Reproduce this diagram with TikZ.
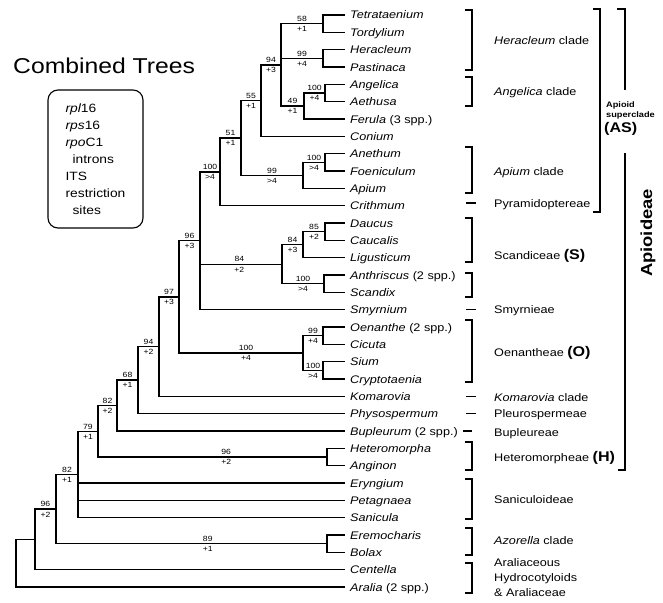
\documentclass[tikz,border=0pt]{standalone}
\usepackage{fontspec}
\setmainfont{Liberation Sans}[FakeStretch=1.15]
\usetikzlibrary{calc}
\tikzstyle{taxon} = [anchor=west, inner xsep=5pt, inner ysep=0pt, text height=8pt, text depth=0pt, font=\fontsize{11}{13}\selectfont\itshape]
\tikzstyle{group} = [anchor=west, inner sep=0pt, text height=8pt, text depth=0pt, font=\fontsize{11}{13}\selectfont]
\tikzstyle{branch} = [line width=1.4pt]
\tikzstyle{boot} = [above, inner sep=1.5pt, font=\fontsize{7.5}{8}\selectfont]
\tikzstyle{decay} = [below, inner sep=2pt, font=\fontsize{7.5}{8}\selectfont]
\tikzstyle{cladebar} = [line width=1.3pt]
\newcommand{\tribe}[1]{{\fontsize{14}{15}\selectfont\bfseries (#1)}}

\begin{document}
\begin{tikzpicture}[x=1pt, y=-1pt]
        \useasboundingbox (0,0) rectangle (663,602);

        \node[anchor=base west, inner sep=0pt, font=\fontsize{21.5}{24}\selectfont] (title) at (13,73) {Combined Trees};
        \node[draw, rounded corners=10pt, line width=1.1pt, minimum width=95pt, minimum height=138pt, align=left, font=\fontsize{12}{17}\selectfont] (markers) at (95.5,159)
            {{\itshape rpl}16\\ {\itshape rps}16\\ {\itshape rpo}C1\\ \hspace*{7pt}introns\\ ITS\\ restriction\\ \hspace*{7pt}sites};

        % taxa
        \node[taxon] at (345, 15) (Tetrataenium) {Tetrataenium};
        \node[taxon] at (345, 32.3) (Tordylium) {Tordylium};
        \node[taxon] at (345, 49.7) (Heracleum) {Heracleum};
        \node[taxon] at (345, 67) (Pastinaca) {Pastinaca};
        \node[taxon] at (345, 84.3) (Angelica) {Angelica};
        \node[taxon] at (345, 101.7) (Aethusa) {Aethusa};
        \node[taxon] at (345, 119) (Ferula) {Ferula \textup{(3 spp.)}};
        \node[taxon] at (345, 136.3) (Conium) {Conium};
        \node[taxon] at (345, 153.6) (Anethum) {Anethum};
        \node[taxon] at (345, 171) (Foeniculum) {Foeniculum};
        \node[taxon] at (345, 188.3) (Apium) {Apium};
        \node[taxon] at (345, 205.6) (Crithmum) {Crithmum};
        \node[taxon] at (345, 223) (Daucus) {Daucus};
        \node[taxon] at (345, 240.3) (Caucalis) {Caucalis};
        \node[taxon] at (345, 257.6) (Ligusticum) {Ligusticum};
        \node[taxon] at (345, 275) (Anthriscus) {Anthriscus \textup{(2 spp.)}};
        \node[taxon] at (345, 292.3) (Scandix) {Scandix};
        \node[taxon] at (345, 309.6) (Smyrnium) {Smyrnium};
        \node[taxon] at (345, 327) (Oenanthe) {Oenanthe \textup{(2 spp.)}};
        \node[taxon] at (345, 344.3) (Cicuta) {Cicuta};
        \node[taxon] at (345, 361.6) (Sium) {Sium};
        \node[taxon] at (345, 379) (Cryptotaenia) {Cryptotaenia};
        \node[taxon] at (345, 396.3) (Komarovia) {Komarovia};
        \node[taxon] at (345, 413.6) (Physospermum) {Physospermum};
        \node[taxon] at (345, 431) (Bupleurum) {Bupleurum \textup{(2 spp.)}};
        \node[taxon] at (345, 448.3) (Heteromorpha) {Heteromorpha};
        \node[taxon] at (345, 465.6) (Anginon) {Anginon};
        \node[taxon] at (345, 483) (Eryngium) {Eryngium};
        \node[taxon] at (345, 500.3) (Petagnaea) {Petagnaea};
        \node[taxon] at (345, 517.6) (Sanicula) {Sanicula};
        \node[taxon] at (345, 535) (Eremocharis) {Eremocharis};
        \node[taxon] at (345, 552.3) (Bolax) {Bolax};
        \node[taxon] at (345, 569.6) (Centella) {Centella};
        \node[taxon] at (345, 587) (Aralia) {Aralia \textup{(2 spp.)}};

        % internal nodes
        \coordinate (TetTor) at (323, 23.7);
        \coordinate (HerPas) at (323, 58.3);
        \coordinate (AngAeth) at (325, 93);
        \coordinate (AngFer) at (304, 106);
        \coordinate (HeraclAng) at (281, 64.8);
        \coordinate (HeraclCon) at (261, 100.6);
        \coordinate (AneFoe) at (325, 162.3);
        \coordinate (AneApi) at (303, 175.3);
        \coordinate (HeraclApi) at (241, 138);
        \coordinate (HeraclCri) at (220, 171.8);
        \coordinate (DauCau) at (325, 231.7);
        \coordinate (DauLig) at (303, 244.7);
        \coordinate (AntSca) at (324, 283.7);
        \coordinate (DauSca) at (282, 264.2);
        \coordinate (HeraclSmy) at (200, 240.7);
        \coordinate (OenCic) at (323, 335.7);
        \coordinate (SiuCry) at (323, 370.3);
        \coordinate (OenCry) at (303, 353);
        \coordinate (HeraclOen) at (179, 296.9);
        \coordinate (HeraclKom) at (159, 346.6);
        \coordinate (HeraclPhy) at (138, 380.1);
        \coordinate (HeraclBup) at (117, 405.6);
        \coordinate (HetAng) at (327, 457);
        \coordinate (HeraclHet) at (98, 431.3);
        \coordinate (HeraclSan) at (78, 474.5);
        \coordinate (EreBol) at (327, 543.7);
        \coordinate (HeraclBol) at (56, 509.1);
        \coordinate (HeraclCen) at (35, 539.4);
        \coordinate (Root) at (16, 563.2);

        % terminal branches
        \draw[branch] (TetTor) |- (Tetrataenium.west);
        \draw[branch] (TetTor) |- (Tordylium.west);
        \draw[branch] (HerPas) |- (Heracleum.west);
        \draw[branch] (HerPas) |- (Pastinaca.west);
        \draw[branch] (AngAeth) |- (Angelica.west);
        \draw[branch] (AngAeth) |- (Aethusa.west);
        \draw[branch] (AngFer) |- (Ferula.west);
        \draw[branch] (HeraclCon) |- (Conium.west);
        \draw[branch] (AneFoe) |- (Anethum.west);
        \draw[branch] (AneFoe) |- (Foeniculum.west);
        \draw[branch] (AneApi) |- (Apium.west);
        \draw[branch] (HeraclCri) |- (Crithmum.west);
        \draw[branch] (DauCau) |- (Daucus.west);
        \draw[branch] (DauCau) |- (Caucalis.west);
        \draw[branch] (DauLig) |- (Ligusticum.west);
        \draw[branch] (AntSca) |- (Anthriscus.west);
        \draw[branch] (AntSca) |- (Scandix.west);
        \draw[branch] (HeraclSmy) |- (Smyrnium.west);
        \draw[branch] (OenCic) |- (Oenanthe.west);
        \draw[branch] (OenCic) |- (Cicuta.west);
        \draw[branch] (SiuCry) |- (Sium.west);
        \draw[branch] (SiuCry) |- (Cryptotaenia.west);
        \draw[branch] (HeraclKom) |- (Komarovia.west);
        \draw[branch] (HeraclPhy) |- (Physospermum.west);
        \draw[branch] (HeraclBup) |- (Bupleurum.west);
        \draw[branch] (HetAng) |- (Heteromorpha.west);
        \draw[branch] (HetAng) |- (Anginon.west);
        \draw[branch] (HeraclSan) |- (Eryngium.west);
        \draw[branch] (HeraclSan) |- (Petagnaea.west);
        \draw[branch] (HeraclSan) |- (Sanicula.west);
        \draw[branch] (EreBol) |- (Eremocharis.west);
        \draw[branch] (EreBol) |- (Bolax.west);
        \draw[branch] (HeraclCen) |- (Centella.west);
        \draw[branch] (Root) |- (Aralia.west);

        % internal branches, bootstrap above and decay below
        \draw[branch] (HeraclAng) |- node[boot, pos=0.75] {58} node[decay, pos=0.75] {+1} (TetTor);
        \draw[branch] (HeraclAng) |- node[boot, pos=0.75] {99} node[decay, pos=0.75] {+4} (HerPas);
        \draw[branch] (HeraclAng) |- node[boot, pos=0.75] {49} node[decay, pos=0.75] {+1} (AngFer);
        \draw[branch] (AngFer) |- node[boot, pos=0.75] {100} node[decay, pos=0.75] {+4} (AngAeth);
        \draw[branch] (HeraclCon) |- node[boot, pos=0.75] {94} node[decay, pos=0.75] {+3} (HeraclAng);
        \draw[branch] (HeraclApi) |- node[boot, pos=0.75] {55} node[decay, pos=0.75] {+1} (HeraclCon);
        \draw[branch] (AneApi) |- node[boot, pos=0.75] {100} node[decay, pos=0.75] {>4} (AneFoe);
        \draw[branch] (HeraclApi) |- node[boot, pos=0.75] {99} node[decay, pos=0.75] {>4} (AneApi);
        \draw[branch] (HeraclCri) |- node[boot, pos=0.75] {51} node[decay, pos=0.75] {+1} (HeraclApi);
        \draw[branch] (HeraclSmy) |- node[boot, pos=0.75] {100} node[decay, pos=0.75] {>4} (HeraclCri);
        \draw[branch] (DauLig) |- node[boot, pos=0.75] {85} node[decay, pos=0.75] {+2} (DauCau);
        \draw[branch] (DauSca) |- node[boot, pos=0.75] {84} node[decay, pos=0.75] {+3} (DauLig);
        \draw[branch] (DauSca) |- node[boot, pos=0.75] {100} node[decay, pos=0.75] {>4} (AntSca);
        \draw[branch] (HeraclSmy) |- node[boot, pos=0.74] {84} node[decay, pos=0.74] {+2} (DauSca);
        \draw[branch] (OenCry) |- node[boot, pos=0.75] {99} node[decay, pos=0.75] {+4} (OenCic);
        \draw[branch] (OenCry) |- node[boot, pos=0.75] {100} node[decay, pos=0.75] {>4} (SiuCry);
        \draw[branch] (HeraclOen) |- node[boot, pos=0.75] {96} node[decay, pos=0.75] {+3} (HeraclSmy);
        \draw[branch] (HeraclOen) |- node[boot, pos=0.77] {100} node[decay, pos=0.77] {+4} (OenCry);
        \draw[branch] (HeraclKom) |- node[boot, pos=0.75] {97} node[decay, pos=0.75] {+3} (HeraclOen);
        \draw[branch] (HeraclPhy) |- node[boot, pos=0.75] {94} node[decay, pos=0.75] {+2} (HeraclKom);
        \draw[branch] (HeraclBup) |- node[boot, pos=0.75] {68} node[decay, pos=0.75] {+1} (HeraclPhy);
        \draw[branch] (HeraclHet) |- node[boot, pos=0.75] {82} node[decay, pos=0.75] {+2} (HeraclBup);
        \draw[branch] (HeraclHet) |- node[boot, pos=0.78] {96} node[decay, pos=0.78] {+2} (HetAng);
        \draw[branch] (HeraclSan) |- node[boot, pos=0.75] {79} node[decay, pos=0.75] {+1} (HeraclHet);
        \draw[branch] (HeraclBol) |- node[boot, pos=0.75] {82} node[decay, pos=0.75] {+1} (HeraclSan);
        \draw[branch] (HeraclBol) |- node[boot, pos=0.78] {89} node[decay, pos=0.78] {+1} (EreBol);
        \draw[branch] (HeraclCen) |- node[boot, pos=0.75] {96} node[decay, pos=0.75] {+2} (HeraclBol);
        \draw[branch] (Root) |- (HeraclCen);

        % clade brackets
        \draw[cladebar] (465,10) -- (472,10) -- (472,70) -- (465,70);
        \draw[cladebar] (465,77) -- (472,77) -- (472,106) -- (465,106);
        \draw[cladebar] (465,147) -- (472,147) -- (472,193) -- (465,193);
        \draw[cladebar] (466,203) -- (476,203);
        \draw[cladebar] (465,218) -- (472,218) -- (472,262) -- (465,262);
        \draw[cladebar] (465,273) -- (472,273) -- (472,297) -- (465,297);
        \draw[cladebar] (466,309.6) -- (476,309.6);
        \draw[cladebar] (465,320) -- (472,320) -- (472,382) -- (465,382);
        \draw[cladebar] (466,396.3) -- (476,396.3);
        \draw[cladebar] (466,413.6) -- (476,413.6);
        \draw[cladebar] (463,431) -- (472,431);
        \draw[cladebar] (465,442) -- (472,442) -- (472,470) -- (465,470);
        \draw[cladebar] (465,479) -- (472,479) -- (472,519) -- (465,519);
        \draw[cladebar] (465,528) -- (472,528) -- (472,555) -- (465,555);
        \draw[cladebar] (465,563) -- (472,563) -- (472,593) -- (465,593);

        \node[group] at (494, 41) (HeracleumClade) {\textit{Heracleum} clade};
        \node[group] at (494, 91) (AngelicaClade) {\textit{Angelica} clade};
        \node[group] at (494, 171) (ApiumClade) {\textit{Apium} clade};
        \node[group] at (494, 203) (Pyramidoptereae) {Pyramidoptereae};
        \node[group] at (494, 255) (Scandiceae) {Scandiceae \tribe{S}};
        \node[group] at (494, 309) (Smyrnieae) {Smyrnieae};
        \node[group] at (494, 352) (Oenantheae) {Oenantheae \tribe{O}};
        \node[group] at (494, 397) (KomaroviaClade) {\textit{Komarovia} clade};
        \node[group] at (494, 413) (Pleurospermeae) {Pleurospermeae};
        \node[group] at (494, 432) (Bupleureae) {Bupleureae};
        \node[group] at (494, 457) (Heteromorpheae) {Heteromorpheae \tribe{H}};
        \node[group] at (494, 499) (Saniculoideae) {Saniculoideae};
        \node[group] at (494, 540) (AzorellaClade) {\textit{Azorella} clade};
        \node[anchor=west, inner sep=0pt, align=left, font=\fontsize{11}{15}\selectfont] at (494, 578) (Araliaceous) {Araliaceous\\ Hydrocotyloids\\ \& Araliaceae};

        % superclade and subfamily
        \draw[cladebar] (593,9) -- (600,9) -- (600,212) -- (593,212);
        \draw[cladebar] (617,9) -- (625,9) -- (625,90);
        \draw[cladebar] (625,153) -- (625,470) -- (618,470);
        \node[anchor=west, inner sep=0pt, font=\fontsize{8}{9}\selectfont\bfseries] at (606,105) (ApioidWord) {Apioid};
        \node[anchor=west, inner sep=0pt, font=\fontsize{8}{9}\selectfont\bfseries] at (606,115) (SupercladeWord) {superclade};
        \node[anchor=west, inner sep=0pt, font=\fontsize{14}{15}\selectfont\bfseries] at (604,129) (AS) {(AS)};
        \node[rotate=90, font=\fontsize{16}{18}\selectfont\bfseries] at (648,233) (Apioideae) {Apioideae};

    \end{tikzpicture}
\end{document}
